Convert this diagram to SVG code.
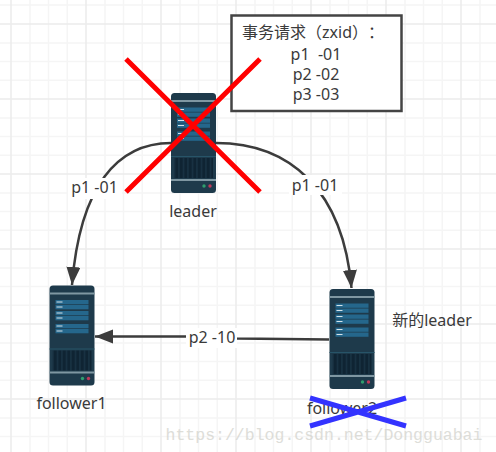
<svg xmlns="http://www.w3.org/2000/svg" xmlns:xlink="http://www.w3.org/1999/xlink" width="496" height="452" viewBox="0 0 496 452">
<style>
text{font-family:"Noto Sans","Noto Sans CJK SC",sans-serif;font-size:16px;fill:#3a3a3a;text-anchor:middle;text-spacing-trim:space-all}
.minor{stroke:#f5f5f5;stroke-width:1.5;fill:none}
.major{stroke:#ececec;stroke-width:1.5;fill:none}
.conn{stroke:#3c3c3c;stroke-width:2.500;fill:none}
.red{stroke:#ff0000;stroke-width:5;fill:none}
.blue{stroke:#3333ff;stroke-width:5;fill:none}
.lbg{fill:#fff}
</style>
<defs>
<pattern id="bars" width="4.500" height="10" patternUnits="userSpaceOnUse"><rect width="4.500" height="10" fill="#0f2433"/><rect x="3" width="1" height="10" fill="#1d3a4c"/></pattern>
<g id="server">
<rect width="45" height="100" rx="3.500" fill="#1e3a4b"/>
<rect y="7" width="45" height="2" fill="#7f97a2"/>
<rect x="6" y="14.500" width="33" height="4.300" fill="#25678c"/><rect x="6" y="19.500" width="33" height="4.300" fill="#25678c"/>
<rect x="6" y="25.500" width="33" height="4.300" fill="#25678c"/><rect x="6" y="30.500" width="33" height="4.300" fill="#25678c"/>
<rect x="6" y="38.500" width="33" height="4.300" fill="#25678c"/><rect x="6" y="43.500" width="33" height="4.300" fill="#25678c"/>
<path d="M7 16.500h6M7 21.500h6M7 27.500h6M7 32.500h6M7 40.500h6M7 45.500h6" stroke="#d5e3ea" stroke-width="1.200"/>
<rect x="0" y="63" width="45" height="1" fill="#275468"/>
<rect x="3" y="65" width="39" height="20" fill="url(#bars)"/>
<rect y="86" width="45" height="2" fill="#7f97a2"/>
<circle cx="33" cy="93" r="1.700" fill="#2f9e6e"/>
<circle cx="39" cy="93" r="1.700" fill="#c0395a"/>
</g>
<marker id="arrow" markerUnits="userSpaceOnUse" markerWidth="20" markerHeight="16" refX="18" refY="7" orient="auto"><path d="M0 0L18 7L0 14Z" fill="#3c3c3c"/></marker>
</defs>
<g id="grid">
<path class="minor" d="M30 0V452M48.500 0V452M67.250 0V452M105 0V452M123.500 0V452M142.250 0V452M180 0V452M198.500 0V452M217.250 0V452M255 0V452M273.500 0V452M292.250 0V452M330 0V452M348.500 0V452M367.250 0V452M405 0V452M423.500 0V452M442.250 0V452M480 0V452"/>
<path class="minor" d="M0 5H496M0 43H496M0 61.500H496M0 80.250H496M0 118H496M0 136.500H496M0 155.250H496M0 193H496M0 211.500H496M0 230.250H496M0 268H496M0 286.500H496M0 305.250H496M0 343H496M0 361.500H496M0 380.250H496M0 418H496M0 436.500H496"/>
<path class="major" d="M11 0V452M86 0V452M161 0V452M236 0V452M311 0V452M386 0V452M461 0V452"/>
<path class="major" d="M0 24H496M0 99H496M0 174H496M0 249H496M0 324H496M0 399H496"/>
</g>
<g id="connectors">
<path class="conn" d="M171 143C118 143 80 185 72 285" marker-end="url(#arrow)"/>
<path class="conn" d="M216 143C290 143 343 190 351.500 288" marker-end="url(#arrow)"/>
<path class="conn" d="M329 339.500L237 338.500L186 336.500H95" marker-end="url(#arrow)"/>
<rect class="lbg" x="68" y="178" width="54" height="21"/>
<text x="94.500" y="193">p1 -01</text>
<rect class="lbg" x="289" y="175" width="53" height="20"/>
<text x="315" y="191">p1 -01</text>
<rect class="lbg" x="186" y="328" width="51" height="20"/>
<text x="212" y="343">p2 -10</text>
</g>
<g id="leader"><use xlink:href="#server" href="#server" x="171" y="93"/><text x="193" y="217">leader</text></g>
<g id="follower1"><use xlink:href="#server" href="#server" x="49.500" y="285.500"/><text x="71.500" y="409">follower1</text></g>
<g id="follower2"><use xlink:href="#server" href="#server" x="329.500" y="289"/><text x="342" y="414">follower2</text></g>
<g id="new-leader-label"><text x="432" y="326">新的leader</text></g>
<g id="zxid-box">
<rect x="231.500" y="15.500" width="170" height="95.500" fill="#fff" stroke="#444" stroke-width="2.500"/>
<text x="313" y="38">事务请求（zxid）：</text>
<text x="316" y="60">p1 &#160;-01</text>
<text x="316" y="80">p2 -02</text>
<text x="316" y="100">p3 -03</text>
</g>
<g id="crosses">
<path class="red" d="M126 59L260 192M126 192L260 59"/>
<path class="blue" d="M310 398L406 426M310 426L406 398"/>
</g>
<text x="324" y="440" style="font-family:'Liberation Mono',monospace;font-size:16.500px;fill:#d6d6d0;opacity:.8">https://blog.csdn.net/Dongguabai</text>
</svg>
